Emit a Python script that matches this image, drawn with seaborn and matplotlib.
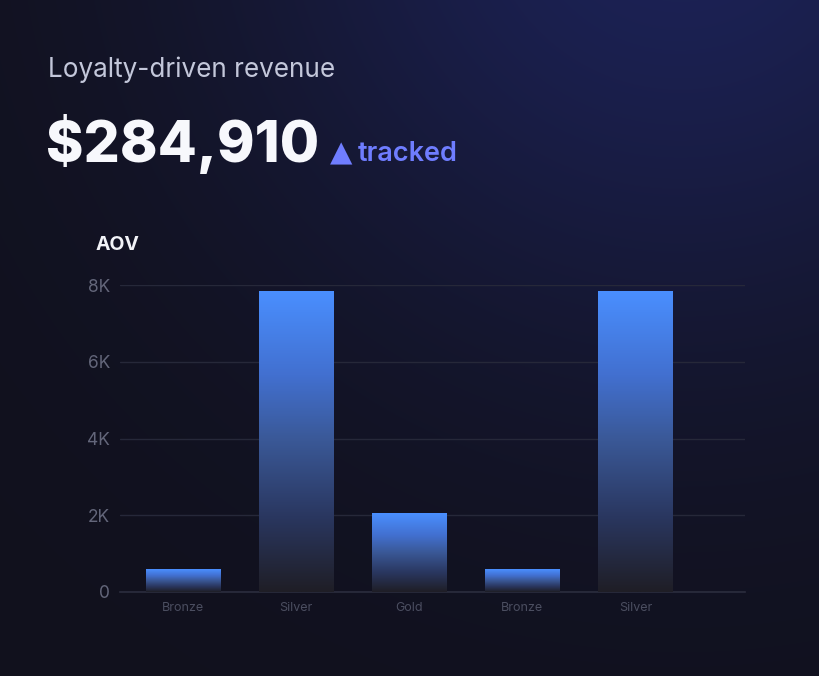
import numpy as np
import pandas as pd
import matplotlib
matplotlib.use("Agg")
import matplotlib.pyplot as plt
import seaborn as sns
from matplotlib.colors import LinearSegmentedColormap, to_rgb

# data
tiers = ["Bronze", "Silver", "Gold", "Bronze", "Silver"]
aov = [590, 7850, 2050, 590, 7850]
y_ticks = [0, 2000, 4000, 6000, 8000]
y_tick_labels = ["0", "2K", "4K", "6K", "8K"]

df = pd.DataFrame({"slot": [str(i) for i in range(len(tiers))], "aov": aov})

sns.set_theme(style="dark")
plt.rcParams["font.family"] = ["Inter", "DejaVu Sans"]

W, H = 820, 676
fig = plt.figure(figsize=(W / 100, H / 100), dpi=100)

# background with a soft blue glow in the top right corner
bg = fig.add_axes([0, 0, 1, 1], zorder=-5)
yy, xx = np.mgrid[0:H, 0:W]
d2 = (xx - 680) ** 2 + (yy + 110) ** 2
t = np.exp(-d2 / (2 * 320.0 ** 2))[..., None]
base = np.array(to_rgb("#11111d"))
glow = np.array(to_rgb("#1c2256"))
bg.imshow(base * (1 - t) + glow * t, extent=[0, W, H, 0], aspect="auto")
bg.axis("off")

ax = fig.add_axes([120 / W, 1 - 592 / H, (745 - 120) / W, (592 - 285) / H])
ax.set_facecolor("none")

sns.barplot(data=df, x="slot", y="aov", ax=ax, width=0.655, color="#4a8fff",
            saturation=1, linewidth=0, zorder=3)

# vertical gradient inside every bar
cmap = LinearSegmentedColormap.from_list(
    "bar", [(0, "#1f1e26"), (0.25, "#2a3760"), (0.5, "#3a5896"),
            (0.72, "#4270d0"), (1, "#4a8fff")])
grad = np.linspace(1, 0, 256)[:, None]
for p in ax.patches:
    x0, w, h = p.get_x(), p.get_width(), p.get_height()
    im = ax.imshow(grad, cmap=cmap, vmin=0, vmax=1, aspect="auto",
                   extent=[x0, x0 + w, 0, h], zorder=3)
    im.set_clip_path(p)
    p.set_facecolor("none")

ax.set_xlim(-0.56, 4.97)
ax.set_ylim(0, 8000)
ax.set_yticks(y_ticks)
ax.set_yticklabels(y_tick_labels)
ax.set_xticks(range(len(tiers)))
ax.set_xticklabels(tiers)
ax.set_xlabel("")
ax.set_ylabel("")
ax.tick_params(axis="y", colors="#63667a", labelsize=12.5, length=0, pad=7)
ax.tick_params(axis="x", colors="#4b4e60", labelsize=9, length=0, pad=7)
ax.grid(axis="y", color="#262839", linewidth=1, zorder=0)
ax.grid(axis="x", visible=False)
for side in ["top", "right", "left"]:
    ax.spines[side].set_visible(False)
ax.spines["bottom"].set_color("#2b2d3e")
ax.spines["bottom"].set_linewidth(1.2)

# header texts
fig.text(48 / W, 1 - 77 / H, "Loyalty-driven revenue", color="#c3c7da",
         fontsize=18.8, va="baseline", ha="left")
fig.text(46 / W, 1 - 162 / H, "$284,910", color="#f7f8fc", fontsize=41,
         fontweight="heavy", va="baseline", ha="left")
fig.text(330 / W, 1 - 161 / H, "▲", color="#6f7dff", fontsize=21,
         va="baseline", ha="left", family=["DejaVu Sans"])
fig.text(358 / W, 1 - 161 / H, "tracked", color="#6f7dff", fontsize=19.5,
         fontweight="semibold", va="baseline", ha="left")
fig.text(96 / W, 1 - 250 / H, "AOV", color="#f2f3f8", fontsize=14,
         fontweight="bold", va="baseline", ha="left")

fig.savefig("out.png", dpi=100, facecolor="#11111d")
